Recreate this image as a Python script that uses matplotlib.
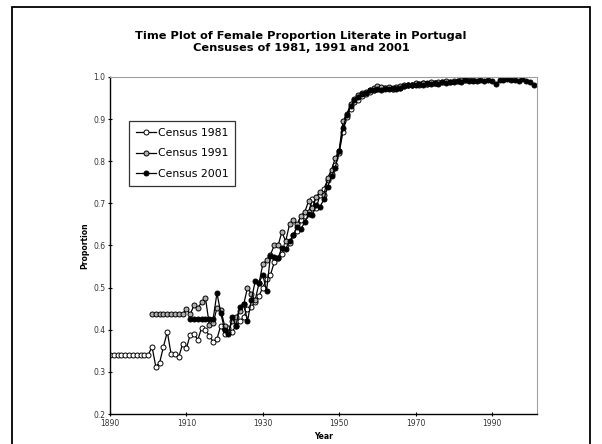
"""Time plot of female proportion literate in Portugal, three censuses."""

import matplotlib
matplotlib.use("Agg")
import matplotlib.pyplot as plt
from matplotlib.patches import Rectangle

# Census 1981: 1890-1900 pooled, then yearly
years_1981 = list(range(1890, 1976))
prop_1981 = [0.34] * 11 + [
    0.36, 0.312, 0.322, 0.36, 0.395, 0.342, 0.342, 0.335, 0.366, 0.356,
    0.388, 0.39, 0.376, 0.405, 0.40, 0.386, 0.372, 0.378, 0.41, 0.39,
    0.405, 0.395, 0.41, 0.42, 0.43, 0.45, 0.455, 0.465, 0.48, 0.50,
    0.52, 0.53, 0.56, 0.57, 0.58, 0.60, 0.605, 0.625, 0.635, 0.66,
    0.67, 0.68, 0.71, 0.69, 0.72, 0.735, 0.755, 0.77, 0.79, 0.82,
    0.87, 0.905, 0.925, 0.94, 0.945, 0.955, 0.96, 0.965, 0.97, 0.972,
    0.975, 0.973, 0.975, 0.972, 0.976, 0.974, 0.978, 0.98, 0.982, 0.983,
    0.982, 0.985, 0.983, 0.986, 0.985,
]

# Census 1991: 1901-1909 pooled, then yearly
years_1991 = list(range(1901, 1986))
prop_1991 = [0.437] * 9 + [
    0.45, 0.437, 0.458, 0.452, 0.465, 0.475, 0.412, 0.415, 0.452, 0.448,
    0.41, 0.395, 0.42, 0.43, 0.445, 0.46, 0.50, 0.485, 0.47, 0.51,
    0.555, 0.565, 0.578, 0.60, 0.60, 0.632, 0.61, 0.65, 0.66, 0.65,
    0.67, 0.68, 0.705, 0.69, 0.715, 0.728, 0.72, 0.76, 0.78, 0.808,
    0.825, 0.895, 0.912, 0.935, 0.948, 0.958, 0.962, 0.965, 0.97, 0.975,
    0.978, 0.976, 0.974, 0.977, 0.972, 0.975, 0.978, 0.98, 0.982, 0.981,
    0.985, 0.984, 0.986, 0.983, 0.987, 0.986, 0.988, 0.987, 0.99, 0.989,
    0.991, 0.99, 0.993, 0.992, 0.994, 0.993,
]

# Census 2001: 1911-1917 pooled, then yearly
years_2001 = list(range(1911, 2002))
prop_2001 = [0.425] * 7 + [
    0.487, 0.44, 0.40, 0.39, 0.43, 0.41, 0.455, 0.462, 0.42, 0.47,
    0.515, 0.512, 0.53, 0.493, 0.575, 0.572, 0.57, 0.595, 0.592, 0.61,
    0.625, 0.645, 0.64, 0.655, 0.675, 0.673, 0.695, 0.692, 0.71, 0.74,
    0.765, 0.785, 0.825, 0.88, 0.91, 0.93, 0.945, 0.952, 0.96, 0.962,
    0.968, 0.97, 0.972, 0.97, 0.972, 0.971, 0.973, 0.972, 0.975, 0.978,
    0.98, 0.982, 0.98, 0.984, 0.982, 0.985, 0.983, 0.986, 0.984, 0.987,
    0.985, 0.988, 0.987, 0.99, 0.988, 0.992, 0.99, 0.991, 0.99, 0.992,
    0.99, 0.993, 0.991, 0.983, 0.992, 0.993, 0.995, 0.993, 0.992, 0.991,
    0.995, 0.99, 0.989, 0.98,
]

x_ticks = [1890, 1910, 1930, 1950, 1970, 1990]
y_ticks = [0.2, 0.3, 0.4, 0.5, 0.6, 0.7, 0.8, 0.9, 1.0]

fig = plt.figure(figsize=(6.02, 4.44), dpi=100)
ax = fig.add_axes([110 / 602, 30 / 444, 427 / 602, 337 / 444])

# outer frame around the whole chart
fig.patches.append(Rectangle((12 / 602, -0.05), 578 / 602, 1.05 - 7 / 444,
                             transform=fig.transFigure, fill=False,
                             edgecolor="black", linewidth=1.3))

style = dict(color="black", linewidth=0.9, marker="o", markersize=3.6,
             markeredgecolor="black", markeredgewidth=0.7)
ax.plot(years_1981, prop_1981, markerfacecolor="white", label="Census 1981", **style)
ax.plot(years_1991, prop_1991, markerfacecolor="#b0b0b0", label="Census 1991", **style)
ax.plot(years_2001, prop_2001, markerfacecolor="black", label="Census 2001", **style)

ax.set_xlim(1890, 2001.8)
ax.set_ylim(0.2, 1.0)
ax.set_xticks(x_ticks)
ax.set_yticks(y_ticks)
ax.set_yticklabels([f"{v:.1f}" for v in y_ticks])
ax.tick_params(labelsize=5.5, labelcolor="#333333", length=3, width=0.8,
               direction="inout", pad=2)
for side in ("top", "right"):
    ax.spines[side].set_color("#a0a0a0")
    ax.spines[side].set_linewidth(0.8)
for side in ("left", "bottom"):
    ax.spines[side].set_linewidth(1.0)

ax.set_xlabel("Year", fontsize=5.5, fontweight="bold", labelpad=3)
ax.set_ylabel("Proportion", fontsize=5.5, fontweight="bold", labelpad=3)

fig.text(301 / 602, 1 - 42 / 444,
         "Time Plot of Female Proportion Literate in Portugal\n"
         "Censuses of 1981, 1991 and 2001",
         ha="center", va="center", fontsize=8.2, fontweight="bold",
         linespacing=1.25)

leg = ax.legend(loc="upper left", bbox_to_anchor=(19 / 427, 1 - 44 / 337),
                fontsize=7.8, frameon=True, fancybox=False, edgecolor="black",
                borderpad=0.65, labelspacing=0.95, handlelength=1.8,
                handletextpad=0.2, borderaxespad=0)
leg.get_frame().set_linewidth(0.9)

fig.savefig("out.png", dpi=100)
